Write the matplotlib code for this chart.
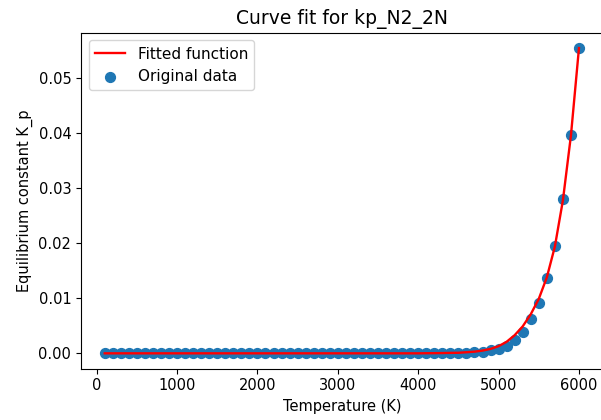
import matplotlib
matplotlib.use("Agg")
import matplotlib.pyplot as plt

# temperatures of the original data points (K)
temperatures = list(range(100, 6100, 100))

# equilibrium constant (near zero below ~4400 K)
kp_data = [0.0] * 43 + [
    0.00003, 0.00005, 0.0001, 0.0002, 0.0003, 0.0006, 0.0008,   # 4400 - 5000
    0.0013, 0.0024, 0.0039, 0.0062, 0.0092, 0.0137, 0.0195,    # 5100 - 5700
    0.0280, 0.0397, 0.0555,                                     # 5800 - 6000
]

# fitted curve, sampled at the same temperatures
kp_fit = [0.0] * 40 + [
    0.00002, 0.00003, 0.00005, 0.00008, 0.0001, 0.0002, 0.0003,  # 4100 - 4700
    0.0005, 0.0008, 0.0013, 0.0021, 0.0033, 0.0049, 0.0071,      # 4800 - 5400
    0.0099, 0.0138, 0.0194, 0.0278, 0.0396, 0.0555,             # 5500 - 6000
]

plt.rcParams['font.size'] = 10.5

fig = plt.figure(figsize=(6.01, 4.20), dpi=100)
ax = fig.add_axes([0.1348, 0.1224, 0.868, 0.7995])

ax.plot(temperatures, kp_fit, color='red', linewidth=1.7, label='Fitted function', zorder=3)
ax.scatter(temperatures, kp_data, s=50, color='#1f77b4', label='Original data', zorder=2)

ax.set_title('Curve fit for kp_N2_2N', fontsize=13.5)
ax.set_xlabel('Temperature (K)')
ax.set_ylabel('Equilibrium constant K_p')
ax.set_xticks([0, 1000, 2000, 3000, 4000, 5000, 6000])
ax.set_yticks([0.0, 0.01, 0.02, 0.03, 0.04, 0.05])
ax.legend(loc='upper left', fontsize=11)

fig.savefig('out.png', dpi=100)
